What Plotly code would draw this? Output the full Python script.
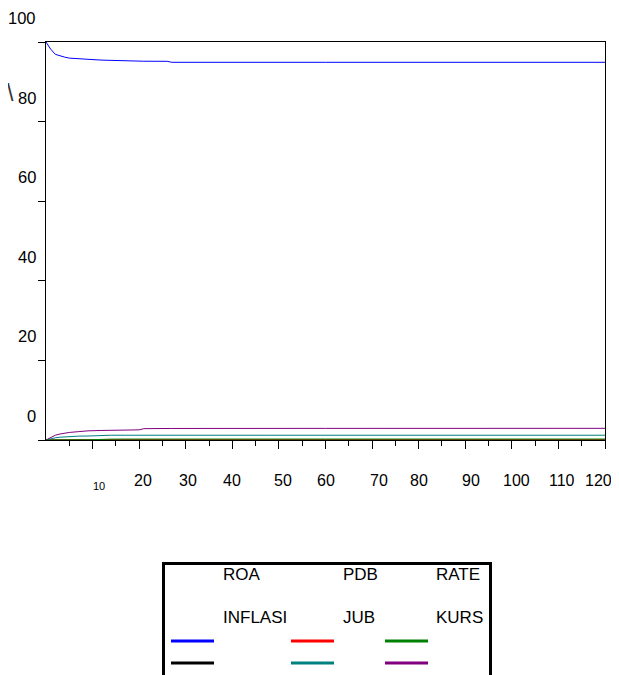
import plotly.graph_objects as go

# ---------------- data ----------------
periods = [0, 1, 2, 3, 4, 5, 7, 9, 12, 14, 17, 20, 21, 26, 27, 60, 120]
roa     = [100, 98.2, 96.9, 96.5, 96.2, 95.95, 95.75, 95.65, 95.45, 95.35, 95.2, 95.18, 95.17, 95.15, 94.9, 94.9, 94.9]
inflasi = [0, 0.03, 0.04, 0.05, 0.05, 0.05, 0.05, 0.05, 0.06, 0.06, 0.06, 0.06, 0.06, 0.06, 0.06, 0.06, 0.06]
pdb     = [0, 0.01, 0.02, 0.02, 0.02, 0.02, 0.02, 0.02, 0.03, 0.03, 0.03, 0.03, 0.03, 0.03, 0.03, 0.03, 0.03]
jub     = [0, 0.35, 0.55, 0.7, 0.8, 0.9, 0.97, 1.0, 1.2, 1.2, 1.2, 1.2, 1.2, 1.2, 1.2, 1.2, 1.2]
kurs    = [0, 0.7, 1.2, 1.5, 1.75, 1.9, 2.1, 2.3, 2.4, 2.45, 2.5, 2.55, 2.85, 2.9, 2.9, 2.92, 2.93]
rate    = [0, 0.03, 0.04, 0.05, 0.05, 0.05, 0.05, 0.05, 0.2, 0.22, 0.24, 0.25, 0.25, 0.25, 0.25, 0.25, 0.25]

series_names  = ["INFLASI", "PDB", "JUB", "KURS", "RATE", "ROA"]
series_values = [inflasi, pdb, jub, kurs, rate, roa]
series_colors = {"ROA": "#0000FF", "PDB": "#FF0000", "RATE": "#008000",
                 "INFLASI": "#000000", "JUB": "#008080", "KURS": "#800080"}

y_tick_vals = [0, 20, 40, 60, 80, 100]
x_major_ticks = [10, 20, 30, 40, 50, 60, 70, 80, 90, 100, 110, 120]
x_minor_ticks = [5, 15, 25, 35, 45, 55, 65, 75, 85, 95, 105, 115]
x_label_text = ["10", "20", "30", "40", "50", "60", "70", "80", "90", "100", "110", "120"]
x_label_pos  = [11.4, 20.8, 30.5, 39.9, 50.9, 60.1, 71.5, 80.1, 91.3, 101.1, 110.8, 118.6]

legend_grid = [["ROA", "PDB", "RATE"], ["INFLASI", "JUB", "KURS"]]

# ---------------- layout helpers ----------------
# The page body has an 8px default margin, so the figure is drawn 8px smaller
# and all reference pixel coordinates are shifted by that offset.
OFF = 8
W, H = 619 - OFF, 675 - OFF
L, R, T, B = 46, 605, 42, 440          # plot frame in reference pixels
def px(x):
    return (x - L) / (R - L)
def py(y):
    return (B - y) / (B - T)

FONT = "Liberation Sans, Arial, sans-serif"
TXT = "#000000"

fig = go.Figure()
for name, vals in zip(series_names, series_values):
    fig.add_trace(go.Scatter(x=periods, y=vals, mode="lines", name=name,
                             line=dict(color=series_colors[name], width=1),
                             showlegend=False, hoverinfo="skip"))

annotations = []
# y labels (offset upward as in the reference)
for v in y_tick_vals:
    annotations.append(dict(text=str(v), x=px(37.5), xref="paper", y=v, yref="y",
                            xanchor="right", yanchor="middle", yshift=24,
                            showarrow=False, font=dict(size=16.5, color=TXT, family=FONT)))
# stray backslash mark
annotations.append(dict(text="\\", x=px(10), xref="paper", y=py(93), yref="paper",
                        xanchor="center", yanchor="middle", showarrow=False,
                        font=dict(size=23, color="#333", family=FONT)))
# x labels
for t, p in zip(x_label_text, x_label_pos):
    small = (t == "10")
    annotations.append(dict(text=t, x=p, xref="x", y=py(486 if small else 480.5), yref="paper",
                            xanchor="center", yanchor="middle", showarrow=False,
                            font=dict(size=11 if small else 16, color=TXT, family=FONT)))

shapes = []
# legend box
shapes.append(dict(type="rect", xref="paper", yref="paper",
                   x0=px(163.5), x1=px(490.5), y0=py(563.5), y1=py(720),
                   line=dict(color="black", width=3), fillcolor="rgba(0,0,0,0)"))
col_text_x = [222, 342, 435]
col_line_x = [(171, 214), (291, 334), (385, 428)]
row_text_y = [574, 617]
row_line_y = [641, 663]
for r, row in enumerate(legend_grid):
    for c, name in enumerate(row):
        annotations.append(dict(text=name, x=px(col_text_x[c] - 1), xref="paper",
                                y=py(row_text_y[r]), yref="paper",
                                xanchor="left", yanchor="middle", showarrow=False,
                                font=dict(size=17, color=TXT, family=FONT)))
        x0, x1 = col_line_x[c]
        shapes.append(dict(type="line", xref="paper", yref="paper",
                           x0=px(x0), x1=px(x1), y0=py(row_line_y[r]), y1=py(row_line_y[r]),
                           line=dict(color=series_colors[name], width=3)))

fig.update_layout(
    width=W, height=H,
    margin=dict(l=L - OFF, r=W - (R - OFF), t=T - OFF, b=H - (B - OFF), pad=0, autoexpand=False),
    paper_bgcolor="white", plot_bgcolor="white",
    font=dict(family=FONT, color=TXT),
    annotations=annotations, shapes=shapes,
    showlegend=False,
)
fig.update_xaxes(range=[0, 120], showgrid=False, zeroline=False,
                 showline=True, linecolor="black", linewidth=1, mirror=True,
                 tickmode="array", tickvals=x_major_ticks, showticklabels=False,
                 ticks="outside", ticklen=8, tickcolor="black", tickwidth=1,
                 minor=dict(tickmode="array", tickvals=x_minor_ticks, ticks="outside",
                            ticklen=5, tickcolor="black", tickwidth=1, showgrid=False))
fig.update_yaxes(range=[0, 100], showgrid=False, zeroline=False,
                 showline=True, linecolor="black", linewidth=1, mirror=True,
                 tickmode="array", tickvals=y_tick_vals, showticklabels=False,
                 ticks="outside", ticklen=7, tickcolor="black", tickwidth=1)

fig.write_html("out.html")
